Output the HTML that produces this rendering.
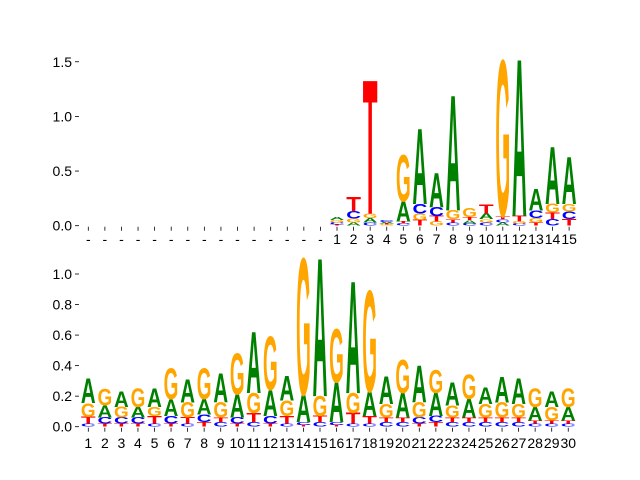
<!DOCTYPE html>
<html><head><meta charset="utf-8"><style>
body{margin:0;background:#fff;}
svg{display:block;font-family:"Liberation Sans","DejaVu Sans",sans-serif;}
</style></head><body>
<svg id="chart" width="640" height="480" viewBox="0 0 640 480" xmlns="http://www.w3.org/2000/svg"></svg>
<script>
// Top panel (30 positions: 15 gaps then 1..15)
const topLabels = ['-','-','-','-','-','-','-','-','-','-','-','-','-','-','-','1','2','3','4','5','6','7','8','9','10','11','12','13','14','15'];
const topA = [0,0,0,0,0,0,0,0,0,0,0,0,0,0,0, .03,.03,.04,.015,.18,.69,.31,1.05,.03,.05,.03,1.43,.2,.52,.43];
const topC = [0,0,0,0,0,0,0,0,0,0,0,0,0,0,0, .02,.07,.03,.015,.02,.09,.08,.03,.02,.03,.03,.02,.07,.06,.07];
const topG = [0,0,0,0,0,0,0,0,0,0,0,0,0,0,0, .02,.035,.04,.01,.42,.06,.04,.08,.08,.03,1.42,.02,.04,.08,.07];
const topT = [0,0,0,0,0,0,0,0,0,0,0,0,0,0,0, .01,.13,1.22,.01,.02,.05,.05,.03,.03,.08,.03,.05,.03,.06,.06];
const topTicks = [0,0.5,1.0,1.5];
// Bottom panel (positions 1..30)
const botLabels = ['1','2','3','4','5','6','7','8','9','10','11','12','13','14','15','16','17','18','19','20','21','22','23','24','25','26','27','28','29','30'];
const botA = [.16,.08,.1,.07,.12,.11,.15,.1,.19,.15,.4,.17,.16,.18,.9,.26,.73,.16,.18,.16,.24,.15,.15,.12,.11,.17,.17,.09,.1,.09];
const botC = [.02,.04,.04,.04,.02,.05,.02,.05,.03,.04,.03,.05,.02,.02,.03,.02,.02,.02,.03,.03,.04,.04,.03,.03,.03,.03,.03,.02,.02,.02];
const botG = [.09,.11,.07,.12,.06,.2,.1,.2,.1,.27,.13,.35,.1,.89,.13,.35,.13,.66,.09,.22,.1,.15,.08,.16,.09,.1,.09,.12,.09,.12];
const botT = [.045,.02,.02,.02,.05,.02,.04,.03,.03,.02,.06,.02,.05,.01,.04,.01,.07,.05,.03,.03,.02,.03,.03,.03,.03,.03,.03,.02,.02,.02];
const botTicks = [0,0.2,0.4,0.6,0.8,1.0];

const NS='http://www.w3.org/2000/svg';
const svg=document.getElementById('chart');
const COLORS={A:'#008000',C:'#0000ff',G:'#ffa500',T:'#ff0000'};
const ADV={A:72.2,C:72.2,G:77.8,T:61.1};
const CAPH=69.2;
function mk(tag,attrs,parent){const e=document.createElementNS(NS,tag);for(const k in attrs)e.setAttribute(k,attrs[k]);(parent||svg).appendChild(e);return e;}

function panel(name,labels,A,C,G,T,ticks,y0,unit,x0,step,labelY){
  const g=mk('g',{});
  
  
  const xs=i=>x0+i*step;
  const ys=v=>y0-v*unit;
  ticks.forEach(t=>{
    const l=mk('line',{x1:75,x2:79,y1:ys(t),y2:ys(t),stroke:'#000','stroke-width':0.8},g);
    
    
    const tx=mk('text',{x:72,y:ys(t)+5,'text-anchor':'end','font-size':14,fill:'#000'},g);
    
    
    tx.textContent=t.toFixed(1);
  });
  labels.forEach((lab,i)=>{
    const l=mk('line',{x1:xs(i),x2:xs(i),y1:y0+1,y2:y0+5,stroke:'#000','stroke-width':0.8},g);
    
    
    const tx=mk('text',{x:xs(i),y:labelY,'text-anchor':'middle','font-size':14,fill:'#000'},g);
    
    
    tx.textContent=lab;
    const items=[['A',A[i]],['C',C[i]],['G',G[i]],['T',T[i]]].filter(d=>d[1]>0).sort((a,b)=>a[1]-b[1]);
    let base=0;
    const w=step*0.89;
    items.forEach(([ch,h])=>{
      const ph=h*unit;
      const yb=ys(base);
      base+=h;
      if(ph<0.3)return;
      const sx=w/ADV[ch], sy=ph/CAPH;
      const t=mk('text',{x:0,y:0,'font-size':100,'font-weight':'bold',fill:COLORS[ch],
        transform:`translate(${xs(i)-w/2},${yb}) scale(${sx},${sy})`},g);
      
      
      t.textContent=ch;
    });
  });
}
panel('top-logo-panel',topLabels,topA,topC,topG,topT,topTicks,225.7,109.3,88.3,16.58,244);
panel('bottom-logo-panel',botLabels,botA,botC,botG,botT,botTicks,426.7,152.7,88.3,16.55,448);
</script>
</body></html>
